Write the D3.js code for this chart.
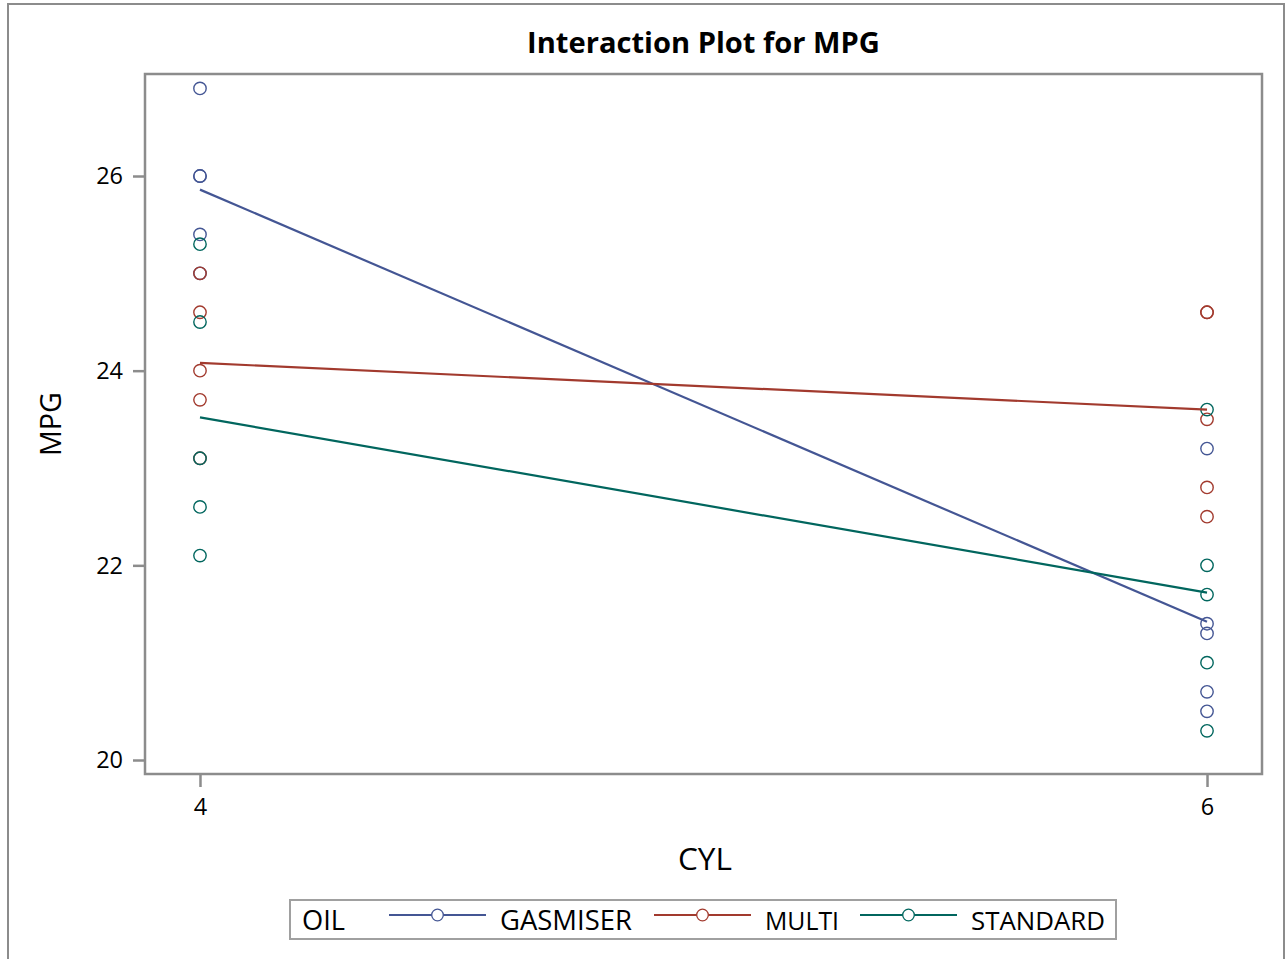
<!DOCTYPE html>
<html><head><meta charset="utf-8">
<script src="https://cdn.jsdelivr.net/npm/d3@7"></script>
<style>body{margin:0;background:#fff}svg{display:block;font-family:"Open Sans",sans-serif}</style>
</head><body><svg id="c" width="1285" height="959"></svg>
<script>
const categories = [4, 6];
const groups = ["GASMISER", "MULTI", "STANDARD"];
const colors = ["#445694", "#A23A2E", "#01665E"];
const gasmiser4 = [26.9, 26.0, 26.0, 25.4, 25.0];
const gasmiser6 = [23.2, 21.4, 21.3, 20.7, 20.5];
const multi4 = [25.0, 24.6, 24.0, 23.7, 23.1];
const multi6 = [24.6, 24.6, 23.5, 22.8, 22.5];
const standard4 = [25.3, 24.5, 23.1, 22.6, 22.1];
const standard6 = [23.6, 22.0, 21.7, 21.0, 20.3];
const yTicks = [20, 22, 24, 26];

const data = [
  {name: groups[0], color: colors[0], vals: [gasmiser4, gasmiser6]},
  {name: groups[1], color: colors[1], vals: [multi4, multi6]},
  {name: groups[2], color: colors[2], vals: [standard4, standard6]}
];

function fit(sel, target) {
  const w = sel.node().getComputedTextLength();
  const fs = parseFloat(sel.attr("font-size"));
  if (w > 0) sel.attr("font-size", (fs * target / w).toFixed(2));
  return sel;
}

const svg = d3.select("#c");
const L = 145, R = 1262, T = 74, B = 774;
const x = d3.scaleLinear().domain([3.8908, 6.1092]).range([L, R]);
const y = d3.scaleLinear().domain([19.8562, 27.048]).range([B, T]);

// outer frame
svg.append("rect").attr("x", 8).attr("y", 4).attr("width", 1276).attr("height", 960)
  .attr("fill", "none").attr("stroke", "#8c8c8c").attr("stroke-width", 2);

fit(svg.append("text").attr("x", 703.5).attr("y", 53).attr("text-anchor", "middle")
  .attr("font-size", 24).attr("font-weight", "bold").text("Interaction Plot for MPG"), 353);

// axes
const ya = svg.append("g").attr("transform", `translate(${L},0)`)
  .call(d3.axisLeft(y).tickValues(yTicks).tickSize(12).tickPadding(10).tickFormat(d3.format("d")));
const xa = svg.append("g").attr("transform", `translate(0,${B})`)
  .call(d3.axisBottom(x).tickValues(categories).tickSize(13).tickPadding(11).tickFormat(d3.format("d")));
[ya, xa].forEach(g => {
  g.select(".domain").remove();
  g.selectAll("line").attr("stroke", "#8c8c8c").attr("stroke-width", 2.5);
  g.selectAll("text").attr("font-size", 23.5).attr("fill", "#000").attr("font-family", "Open Sans");
});
ya.selectAll("text").attr("dy", "0.33em");

svg.append("rect").attr("x", L).attr("y", T).attr("width", R - L).attr("height", B - T)
  .attr("fill", "none").attr("stroke", "#8c8c8c").attr("stroke-width", 2.5);

// points and mean lines
data.forEach(s => {
  s.vals.forEach((arr, i) => {
    svg.selectAll(null).data(arr).enter().append("circle")
      .attr("cx", x(categories[i])).attr("cy", d => y(d)).attr("r", 6.2)
      .attr("fill", "none").attr("stroke", s.color).attr("stroke-width", 1.4);
  });
});
data.forEach(s => {
  const means = s.vals.map((arr, i) => [categories[i], d3.mean(arr)]);
  svg.append("path").attr("d", d3.line().x(d => x(d[0])).y(d => y(d[1]))(means))
    .attr("fill", "none").attr("stroke", s.color).attr("stroke-width", 2.2);
});

// axis labels
fit(svg.append("text").attr("x", 705).attr("y", 870).attr("text-anchor", "middle")
  .attr("font-size", 24).text("CYL"), 54);
fit(svg.append("text").attr("transform", "translate(61,424) rotate(-90)").attr("text-anchor", "middle")
  .attr("font-size", 24).text("MPG"), 64);

// legend
const lg = svg.append("g");
lg.append("rect").attr("x", 290).attr("y", 900).attr("width", 826).attr("height", 39)
  .attr("fill", "none").attr("stroke", "#a0a0a0").attr("stroke-width", 2);
fit(lg.append("text").attr("x", 302).attr("y", 930).attr("font-size", 24).text("OIL"), 43);
const lx = [389, 654, 860];
const tw = [132, 74, 134];
data.forEach((s, i) => {
  lg.append("line").attr("x1", lx[i]).attr("x2", lx[i] + 97).attr("y1", 915).attr("y2", 915)
    .attr("stroke", s.color).attr("stroke-width", 2.2);
  lg.append("circle").attr("cx", lx[i] + 48.5).attr("cy", 915).attr("r", 5.8)
    .attr("fill", "#fff").attr("stroke", s.color).attr("stroke-width", 1.3);
  fit(lg.append("text").attr("x", lx[i] + 111).attr("y", 930).attr("font-size", 24).text(s.name), tw[i]);
});
</script></body></html>
